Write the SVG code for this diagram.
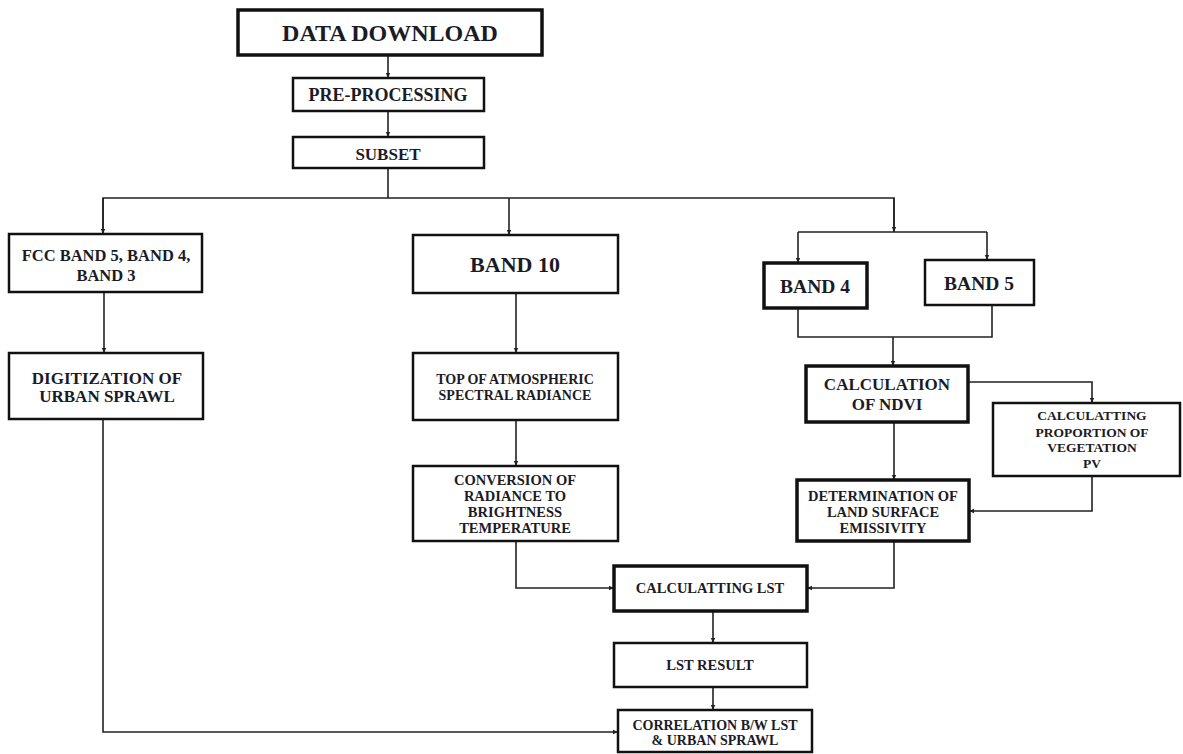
<svg xmlns="http://www.w3.org/2000/svg" width="1183" height="754" viewBox="0 0 1183 754">
<defs>
<style>
.box{fill:#fff;stroke:#111;stroke-width:2.5}
.thick{stroke-width:3.5}
.t{font-family:"Liberation Serif","Times New Roman",serif;font-weight:bold;fill:#1b1b26;text-anchor:middle}
.c{fill:none;stroke:#222;stroke-width:1.6}
</style>
<marker id="ah" markerWidth="6" markerHeight="6" refX="5" refY="3" orient="auto" markerUnits="userSpaceOnUse">
<path d="M0,0.8 L5,3 L0,5.2 Z" fill="#222"/>
</marker>
</defs>
<rect width="1183" height="754" fill="#fff"/>

<g id="connectors">
<path class="c" d="M388,55 V78" marker-end="url(#ah)"/>
<path class="c" d="M388,111 V137" marker-end="url(#ah)"/>
<path class="c" d="M388,168 V198"/>
<path class="c" d="M103,234 V198 H894 V232"/>
<path class="c" d="M103,198 V234" marker-end="url(#ah)"/>
<path class="c" d="M509,198 V235" marker-end="url(#ah)"/>
<path class="c" d="M894,198 V232" marker-end="url(#ah)"/>
<path class="c" d="M798,232 H987"/>
<path class="c" d="M798,232 V263" marker-end="url(#ah)"/>
<path class="c" d="M987,232 V260" marker-end="url(#ah)"/>
<path class="c" d="M798,308 V337 H992 V305"/>
<path class="c" d="M893,337 V366" marker-end="url(#ah)"/>
<path class="c" d="M104,292 V353" marker-end="url(#ah)"/>
<path class="c" d="M516,293 V353" marker-end="url(#ah)"/>
<path class="c" d="M516,420 V466" marker-end="url(#ah)"/>
<path class="c" d="M968,382 H1092 V403" marker-end="url(#ah)"/>
<path class="c" d="M894,422 V480" marker-end="url(#ah)"/>
<path class="c" d="M1092,476 V511 H969" marker-end="url(#ah)"/>
<path class="c" d="M516,541 V588 H614" marker-end="url(#ah)"/>
<path class="c" d="M894,541 V588 H807" marker-end="url(#ah)"/>
<path class="c" d="M713,611 V643" marker-end="url(#ah)"/>
<path class="c" d="M713,687 V710" marker-end="url(#ah)"/>
<path class="c" d="M103,419 V732 H618" marker-end="url(#ah)"/>
</g>

<g id="data-download">
<rect class="box thick" x="238" y="10" width="304" height="45"/>
<text class="t" x="390" y="41" font-size="24">DATA DOWNLOAD</text>
</g>
<g id="pre-processing">
<rect class="box" x="293" y="78" width="191" height="33"/>
<text class="t" x="388" y="101" font-size="18">PRE-PROCESSING</text>
</g>
<g id="subset">
<rect class="box" x="293" y="137" width="191" height="31"/>
<text class="t" x="388" y="160" font-size="17">SUBSET</text>
</g>
<g id="fcc">
<rect class="box" x="9" y="234" width="193" height="58"/>
<text class="t" x="106" y="261" font-size="16.5">FCC BAND 5, BAND 4,</text>
<text class="t" x="106" y="281" font-size="16.5">BAND 3</text>
</g>
<g id="digitization">
<rect class="box" x="9" y="353" width="194" height="66"/>
<text class="t" x="107" y="384" font-size="17">DIGITIZATION OF</text>
<text class="t" x="107" y="402" font-size="17">URBAN SPRAWL</text>
</g>
<g id="band10">
<rect class="box" x="413" y="235" width="205" height="58"/>
<text class="t" x="515" y="272" font-size="22">BAND 10</text>
</g>
<g id="toa">
<rect class="box" x="413" y="353" width="205" height="67"/>
<text class="t" x="515" y="384" font-size="14">TOP OF ATMOSPHERIC</text>
<text class="t" x="515" y="400" font-size="14">SPECTRAL RADIANCE</text>
</g>
<g id="conversion">
<rect class="box" x="413" y="466" width="205" height="75"/>
<text class="t" x="515" y="485" font-size="14.5">CONVERSION OF</text>
<text class="t" x="515" y="501" font-size="14.5">RADIANCE TO</text>
<text class="t" x="515" y="517" font-size="14.5">BRIGHTNESS</text>
<text class="t" x="515" y="533" font-size="14.5">TEMPERATURE</text>
</g>
<g id="band4">
<rect class="box thick" x="764" y="263" width="103" height="45"/>
<text class="t" x="815" y="293" font-size="19.5">BAND 4</text>
</g>
<g id="band5">
<rect class="box" x="925" y="260" width="109" height="45"/>
<text class="t" x="979" y="290" font-size="19.5">BAND 5</text>
</g>
<g id="ndvi">
<rect class="box thick" x="806" y="366" width="162" height="56"/>
<text class="t" x="887" y="390" font-size="17">CALCULATION</text>
<text class="t" x="887" y="410" font-size="17">OF NDVI</text>
</g>
<g id="pv">
<rect class="box" x="993" y="403" width="187" height="73"/>
<text class="t" x="1092" y="420" font-size="13.5">CALCULATTING</text>
<text class="t" x="1092" y="437" font-size="13.5">PROPORTION OF</text>
<text class="t" x="1092" y="452" font-size="13.5">VEGETATION</text>
<text class="t" x="1092" y="468" font-size="13.5">PV</text>
</g>
<g id="emissivity">
<rect class="box thick" x="797" y="480" width="172" height="61"/>
<text class="t" x="883" y="501" font-size="14.5">DETERMINATION OF</text>
<text class="t" x="883" y="517" font-size="14.5">LAND SURFACE</text>
<text class="t" x="883" y="533" font-size="14.5">EMISSIVITY</text>
</g>
<g id="calc-lst">
<rect class="box thick" x="614" y="566" width="193" height="45"/>
<text class="t" x="710" y="593" font-size="14.5">CALCULATTING LST</text>
</g>
<g id="lst-result">
<rect class="box" x="614" y="643" width="193" height="44"/>
<text class="t" x="710" y="670" font-size="14.5">LST RESULT</text>
</g>
<g id="correlation">
<rect class="box" x="618" y="710" width="194" height="42"/>
<text class="t" x="715" y="730" font-size="14">CORRELATION B/W LST</text>
<text class="t" x="715" y="745" font-size="14">&amp; URBAN SPRAWL</text>
</g>
</svg>
